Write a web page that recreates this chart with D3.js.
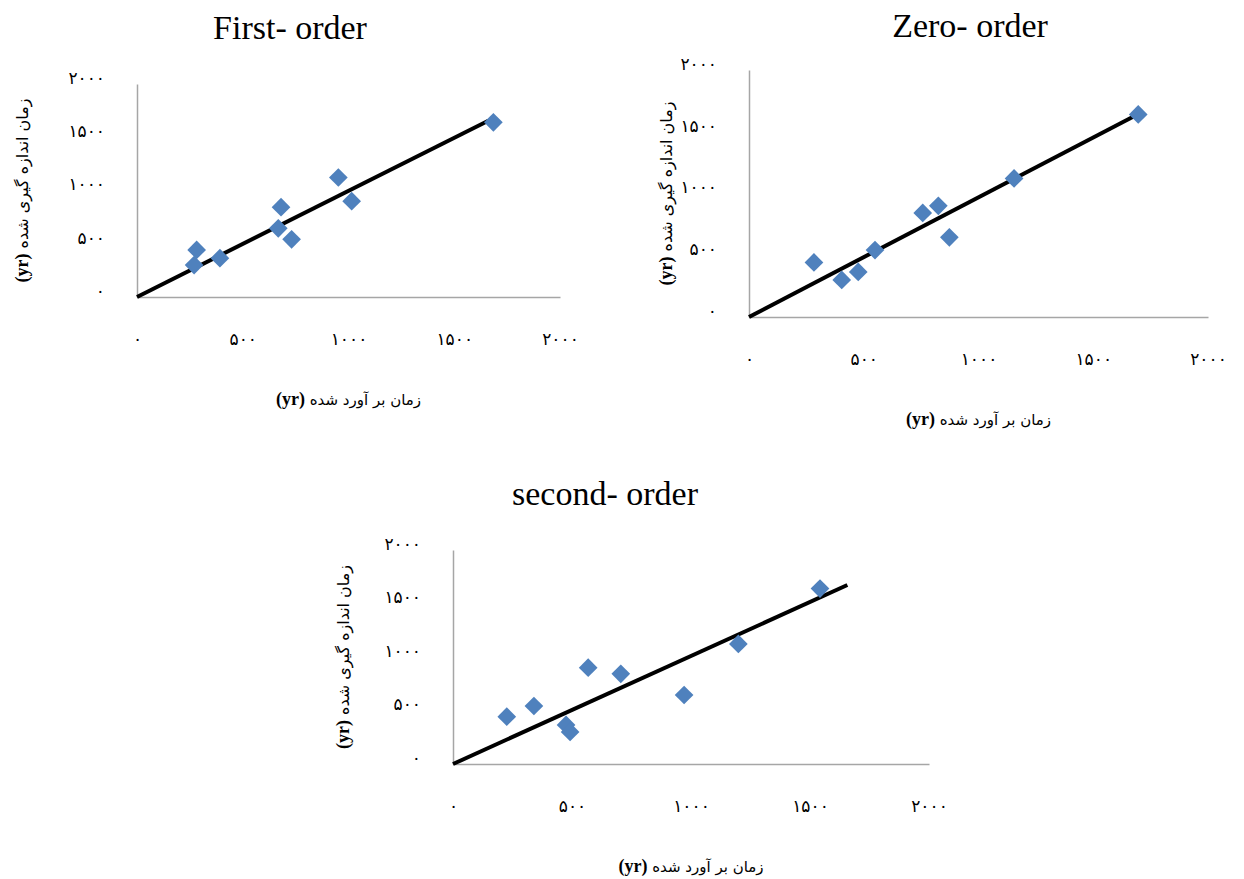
<!DOCTYPE html>
<html>
<head>
<meta charset="utf-8">
<script src="https://cdn.jsdelivr.net/npm/d3@7"></script>
<style>
  body { margin: 0; background: #fff; }
  svg { display: block; }
</style>
</head>
<body>
<div id="chart"></div>
<script>
  // measured times (same for all three panels), estimated times per model
  const measured = [1640, 1122, 900, 843, 645, 542, 442, 365, 300];
  const firstEstimated = [1685, 952, 1015, 681, 668, 731, 282, 392, 270];
  const zeroEstimated = [1696, 1155, 825, 757, 873, 549, 283, 476, 404];
  const secondEstimated = [1542, 1199, 568, 705, 971, 340, 226, 475, 492];

  // fitted lines, start and end points [estimated, measured]
  const firstFit = [[0, 0], [1661, 1655]];
  const zeroFit = [[0, 0], [1682, 1630]];
  const secondFit = [[0, 0], [1657, 1673]];

  const ticks = [0, 500, 1000, 1500, 2000];
  const titles = ['First- order', 'Zero- order', 'second- order'];
  const xTitle = ' زمان بر آورد شده';
  const yTitle = ' زمان اندازه گیری شده';
  const unit = '(yr)';

  const panels = [
    {title: titles[0], est: firstEstimated, fit: firstFit,
     left: 137, right: 560, top: 84, bottom: 297, titleX: 290, titleY: 39, yTitleX: 22},
    {title: titles[1], est: zeroEstimated, fit: zeroFit,
     left: 749, right: 1208, top: 70, bottom: 317, titleX: 970, titleY: 37, yTitleX: 666},
    {title: titles[2], est: secondEstimated, fit: secondFit,
     left: 453, right: 929, top: 550, bottom: 764, titleX: 605, titleY: 505, yTitleX: 343}
  ];

  const persian = d => String(d).replace(/\d/g, c => '۰۱۲۳۴۵۶۷۸۹'[c]);

  const svg = d3.select('#chart').append('svg')
      .attr('width', 1244)
      .attr('height', 879);

  svg.append('rect').attr('width', 1244).attr('height', 879).attr('fill', '#fff');

  const diamond = d3.symbol().type(d3.symbolSquare).size(175);

  panels.forEach(p => {
    const x = d3.scaleLinear().domain([0, 2000]).range([p.left, p.right]);
    const y = d3.scaleLinear().domain([0, 2000]).range([p.bottom, p.top]);
    const g = svg.append('g');

    // axes
    const xAxis = g.append('g')
        .attr('transform', `translate(0,${p.bottom})`)
        .call(d3.axisBottom(x).tickValues(ticks).tickFormat(persian).tickSize(0).tickPadding(36));
    const yAxis = g.append('g')
        .attr('transform', `translate(${p.left},0)`)
        .call(d3.axisLeft(y).tickValues(ticks).tickFormat(persian).tickSize(0).tickPadding(32));

    [xAxis, yAxis].forEach(a => {
      a.select('.domain').attr('stroke', '#a6a6a6').attr('stroke-width', 1.5);
      a.selectAll('text')
          .attr('font-family', 'DejaVu Sans, sans-serif')
          .attr('font-size', 17)
          .attr('letter-spacing', 3)
          .attr('fill', '#000');
    });
    yAxis.selectAll('text').attr('y', -6);

    // fitted line
    g.append('path')
        .datum(p.fit)
        .attr('fill', 'none')
        .attr('stroke', '#000')
        .attr('stroke-width', 4)
        .attr('d', d3.line().x(d => x(d[0])).y(d => y(d[1])));

    // points
    g.selectAll('.pt')
      .data(p.est.map((e, i) => [e, measured[i]]))
      .join('path')
        .attr('class', 'pt')
        .attr('d', diamond)
        .attr('fill', '#4f81bd')
        .attr('transform', d => `translate(${x(d[0])},${y(d[1])}) rotate(45)`);

    // titles
    g.append('text')
        .attr('x', p.titleX)
        .attr('y', p.titleY)
        .attr('text-anchor', 'middle')
        .attr('font-family', 'Liberation Serif, serif')
        .attr('font-size', 34)
        .text(p.title);

    const xt = g.append('text')
        .attr('x', (p.left + p.right) / 2)
        .attr('y', p.bottom + 108)
        .attr('text-anchor', 'middle')
        .attr('direction', 'ltr')
        .attr('font-family', 'DejaVu Sans, sans-serif')
        .attr('font-size', 15);
    xt.append('tspan').attr('font-family', 'Liberation Serif, serif').attr('font-weight', 'bold').attr('font-size', 18).text(unit);
    xt.append('tspan').text(xTitle);

    const yt = g.append('text')
        .attr('transform', `translate(${p.yTitleX},${(p.top + p.bottom) / 2}) rotate(-90)`)
        .attr('text-anchor', 'middle')
        .attr('dy', '0.35em')
        .attr('direction', 'ltr')
        .attr('font-family', 'DejaVu Sans, sans-serif')
        .attr('font-size', 16);
    yt.append('tspan').attr('font-family', 'Liberation Serif, serif').attr('font-weight', 'bold').attr('font-size', 18).text(unit);
    yt.append('tspan').text(yTitle);
  });
</script>
</body>
</html>
